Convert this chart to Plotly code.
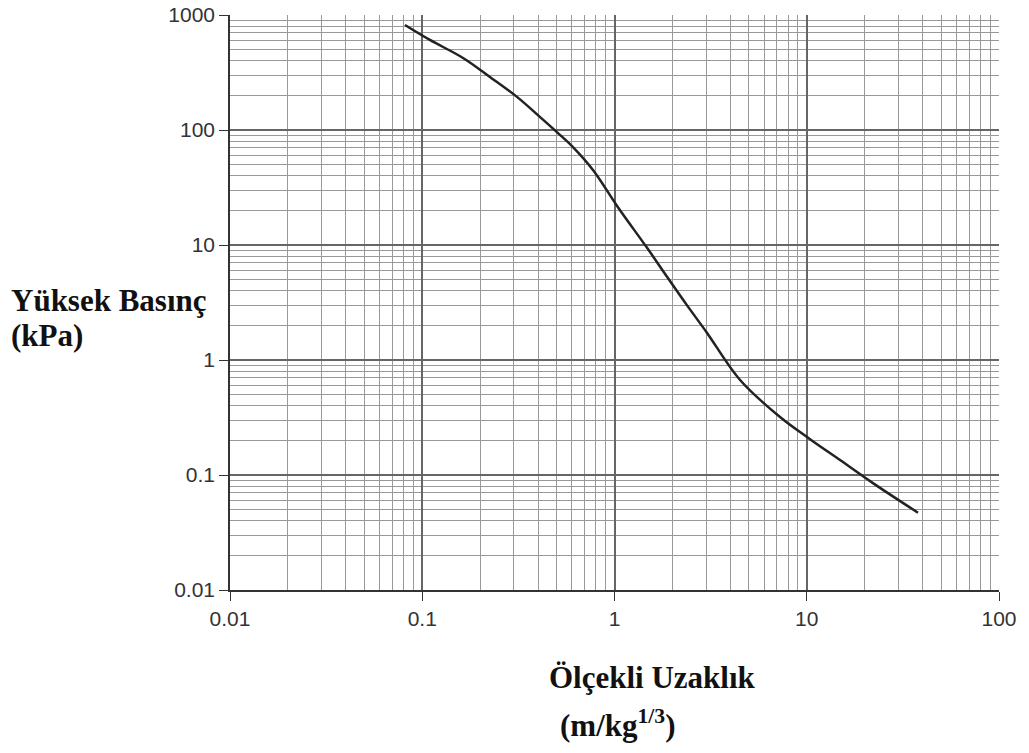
import plotly.graph_objects as go

# Scaled distance (m/kg^1/3) and incident overpressure (kPa)
scaled_distance = [0.0813, 0.1096, 0.163, 0.225, 0.311, 0.409, 0.508, 0.608, 0.773,
                   1.04, 1.48, 1.88, 2.38, 3.03, 4.50, 7.26, 10.4, 14.9, 22.1, 37.9]
pressure_kpa = [819, 607, 423, 289, 194, 130, 94, 71, 44.9,
                21.4, 9.4, 5.27, 3.0, 1.72, 0.67, 0.319, 0.205, 0.135, 0.085, 0.047]

x_tickvals = [0.01, 0.1, 1, 10, 100]
x_ticktext = ["0.01", "0.1", "1", "10", "100"]
y_tickvals = [0.01, 0.1, 1, 10, 100, 1000]
y_ticktext = ["0.01", "0.1", "1", "10", "100", "1000"]

fig = go.Figure()
fig.add_trace(go.Scatter(
    x=scaled_distance, y=pressure_kpa, mode="lines",
    line=dict(color="#222222", width=2.5, shape="spline", smoothing=1.0),
    showlegend=False, hoverinfo="x+y"))

tick_font = dict(family="Liberation Sans, Arial, sans-serif", size=21, color="#333333")

axis_common = dict(
    type="log",
    ticks="outside", ticklen=9, tickcolor="#333333", tickwidth=1,
    showline=True, linecolor="#333333", linewidth=1.5,
    showgrid=True, gridcolor="#666666", gridwidth=1.5,
    minor=dict(dtick="D1", showgrid=True, gridcolor="#999999", gridwidth=1, ticks=""),
    tickfont=tick_font, zeroline=False, automargin=False,
    ticklabeloverflow="allow")

fig.update_xaxes(range=[-2, 2], tickvals=x_tickvals, ticktext=x_ticktext, **axis_common)
fig.update_yaxes(range=[-2, 3], tickvals=y_tickvals, ticktext=y_ticktext, **axis_common)

title_font = dict(family="Liberation Serif, Times New Roman, serif", size=31, color="#111111")

fig.add_annotation(text="<b>Yüksek Basınç</b>", xref="paper", yref="paper",
                   x=-0.288, y=0.504, xanchor="left", yanchor="middle",
                   showarrow=False, font=title_font)
fig.add_annotation(text="<b>(kPa)</b>", xref="paper", yref="paper",
                   x=-0.288, y=0.443, xanchor="left", yanchor="middle",
                   showarrow=False, font=title_font)
fig.add_annotation(text="<b>Ölçekli Uzaklık</b>", xref="paper", yref="paper",
                   x=0.549, y=-0.153, xanchor="center", yanchor="middle",
                   showarrow=False, font=title_font)
fig.add_annotation(text="<b>(m/kg<sup>1/3</sup>)</b>", xref="paper", yref="paper",
                   x=0.505, y=-0.232, xanchor="center", yanchor="middle",
                   showarrow=False, font=title_font)

fig.update_layout(
    width=1029, height=753,
    margin=dict(l=230, r=30, t=15, b=163),
    plot_bgcolor="white", paper_bgcolor="white")

fig.write_html("out.html",
               config={"displayModeBar": False},
               post_script="document.body.style.margin='0';document.body.style.overflow='hidden';")
